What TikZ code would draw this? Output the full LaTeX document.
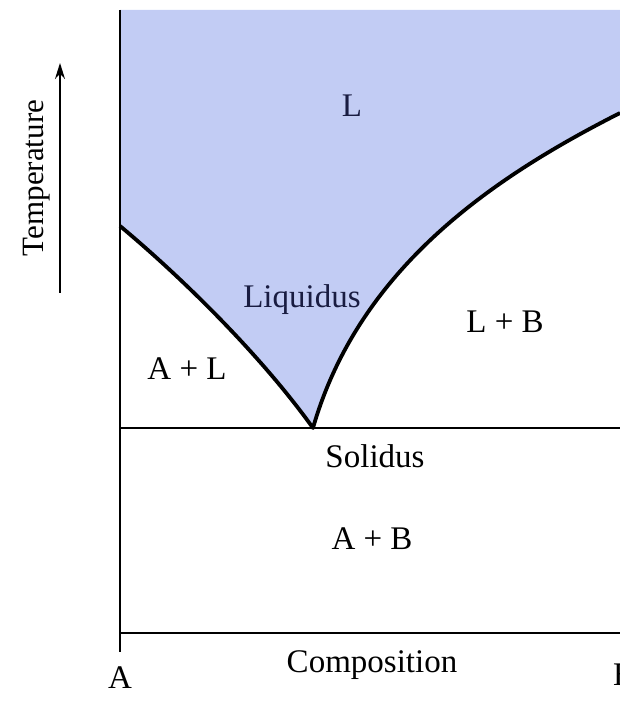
\documentclass[tikz,border=0pt]{standalone}
\usepackage{fontspec}
\setmainfont{Liberation Serif}
\usetikzlibrary{arrows.meta}

\definecolor{liqfill}{RGB}{194,204,244}
\definecolor{liqtext}{RGB}{25,28,65}

\tikzset{
  phase/.style={anchor=base, inner sep=0pt, font=\fontsize{33}{38}\selectfont},
  liqline/.style={line width=3.8pt, line join=round},
  frame/.style={line width=2.3pt}
}

\begin{document}
\begin{tikzpicture}[x=1pt, y=1pt]
                \useasboundingbox (0,0) rectangle (620,704);
                \coordinate (topA) at (120,694);
                \coordinate (liqA) at (120,478);
                \coordinate (eut) at (313,276);
                \coordinate (liqB) at (620,591);
                
                % liquid region
                \fill[liqfill] (topA) -- (liqA) .. controls (180,428) and (260,350) .. (eut)
                    .. controls (360,440) and (500,530) .. (liqB) -- (620,694) -- cycle;
                
                % frame, solidus
                \draw[frame] (topA) -- (120,52);
                \draw[frame] (120,71) -- (620,71);
                \draw[frame] (120,276) -- (620,276);
                
                % liquidus curves
                \draw[liqline] (liqA) .. controls (180,428) and (260,350) .. (eut)
                    .. controls (360,440) and (500,530) .. (liqB);
                
                % temperature arrow
                \coordinate (tlow) at (60,411);
                \coordinate (thigh) at (60,641);
                \draw[line width=1.8pt, -{Stealth[length=16pt,width=10pt]}] (tlow) -- (thigh);
                \node[phase, rotate=90, font=\fontsize{31}{36}\selectfont] (temp) at (43,526) {Temperature};
                
                \node[phase, text=liqtext] (liq) at (352,587) {L};
                \node[phase, text=liqtext] (liqlbl) at (302,396) {Liquidus};
                \node[phase] (lb) at (505,371) {L + B};
                \node[phase] (al) at (187,324) {A + L};
                \node[phase] (sol) at (375,236) {Solidus};
                \node[phase] (ab) at (372,154) {A + B};
                \node[phase] (comp) at (372,31) {Composition};
                \node[phase] (compA) at (120,16) {A};
                \node[phase] (compB) at (624,19) {B};
            \end{tikzpicture}
\end{document}
